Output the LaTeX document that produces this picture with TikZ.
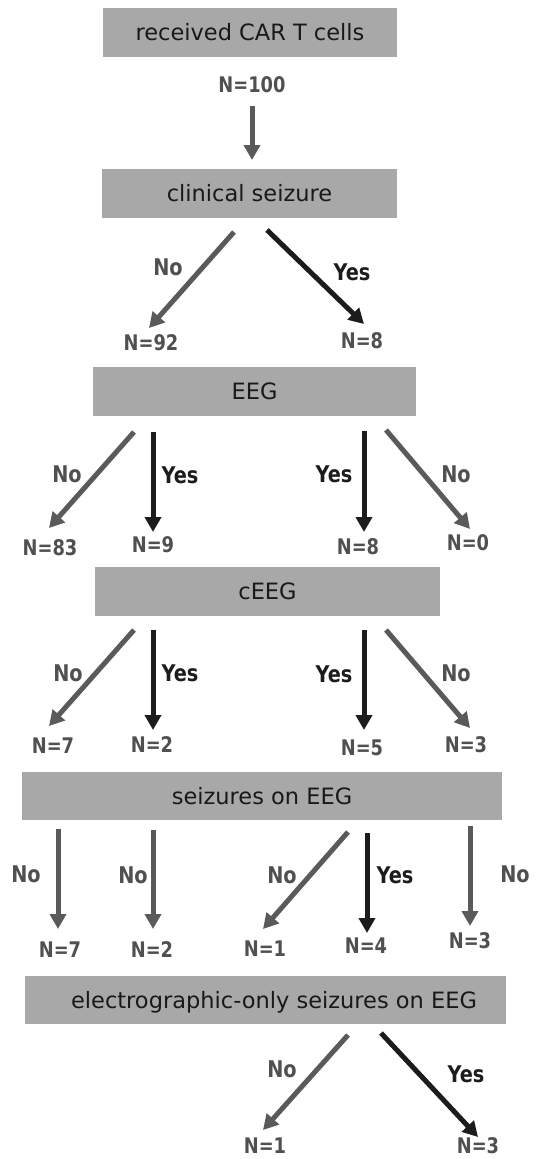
\documentclass[tikz,border=0pt]{standalone}
\usepackage{fontspec}
\setmainfont{DejaVu Sans}
\newfontfamily\nfont{DejaVu Sans}[FakeStretch=0.83]
\newfontfamily\lfont{DejaVu Sans}[FakeStretch=0.84]
\usetikzlibrary{arrows.meta}
\definecolor{boxgray}{HTML}{A8A8A8}
\definecolor{arrgray}{HTML}{5A5A5A}
\definecolor{arrblack}{HTML}{1C1C1C}
\definecolor{ngray}{HTML}{505050}
\tikzset{
  stagebox/.style={fill=boxgray, draw=none, minimum height=49pt, inner sep=0pt,
    text height=16pt, text depth=0pt, font=\fontsize{22.5pt}{26pt}\selectfont, text=black!90},
  nlab/.style={inner sep=0pt, text=ngray, font=\nfont\bfseries\fontsize{21.5pt}{25pt}\selectfont},
  nolab/.style={inner sep=0pt, text=ngray, font=\lfont\bfseries\fontsize{23pt}{27pt}\selectfont},
  yeslab/.style={inner sep=0pt, text=arrblack, font=\lfont\bfseries\fontsize{23pt}{27pt}\selectfont},
  noarr/.style={draw=arrgray, line width=5pt, -{Triangle[length=15pt,width=16pt]}},
  yesarr/.style={draw=arrblack, line width=5pt, -{Triangle[length=15pt,width=16pt]}},
}
\begin{document}
\begin{tikzpicture}[x=1pt,y=-1pt]
\useasboundingbox (0,0) rectangle (542,1159);
% boxes
\node[stagebox, minimum width=294pt] (b1) at (250,32.5) {received CAR T cells};
\node[stagebox, minimum width=295pt] (b2) at (249.5,193.5) {clinical seizure};
\node[stagebox, minimum width=323pt] (b3) at (254.5,391.5) {EEG};
\node[stagebox, minimum width=345pt] (b4) at (267.5,591.5) {cEEG};
\node[stagebox, minimum width=480pt, minimum height=48pt] (b5) at (262,796) {seizures on EEG};
\node[stagebox, minimum width=481pt, minimum height=48pt] (b6) at (265.5,1000) {\hspace*{17pt}electrographic-only seizures on EEG};
% level 0
\node[nlab] (n100) at (252,85) {N=100};
\coordinate (s0) at (252,106); \coordinate (e0) at (252,160);
\draw[noarr] (s0) -- (e0);
% level 1
\coordinate (s1a) at (234,232); \coordinate (e1a) at (149,328);
\coordinate (s1b) at (267,230); \coordinate (e1b) at (364,324);
\draw[noarr] (s1a) -- (e1a);
\draw[yesarr] (s1b) -- (e1b);
\node[nolab] (l1a) at (168,267) {No};
\node[yeslab] (l1b) at (352,272) {Yes};
\node[nlab] (n92) at (151,343) {N=92};
\node[nlab] (n8a) at (362,341) {N=8};
% level 2
\coordinate (s2a) at (134,432); \coordinate (e2a) at (49,528);
\coordinate (s2b) at (153,432); \coordinate (e2b) at (153,532);
\coordinate (s2c) at (364,431); \coordinate (e2c) at (364,532);
\coordinate (s2d) at (386,430); \coordinate (e2d) at (470,529);
\draw[noarr] (s2a) -- (e2a);
\draw[yesarr] (s2b) -- (e2b);
\draw[yesarr] (s2c) -- (e2c);
\draw[noarr] (s2d) -- (e2d);
\node[nolab] (l2a) at (67,474) {No};
\node[yeslab] (l2b) at (180,475) {Yes};
\node[yeslab] (l2c) at (334,474) {Yes};
\node[nolab] (l2d) at (456,474) {No};
\node[nlab] (n83) at (50,548) {N=83};
\node[nlab] (n9) at (153,545) {N=9};
\node[nlab] (n8b) at (358,547) {N=8};
\node[nlab] (n0) at (468,543) {N=0};
% level 3
\coordinate (s3a) at (134,630); \coordinate (e3a) at (49,726);
\coordinate (s3b) at (153,630); \coordinate (e3b) at (153,730);
\coordinate (s3c) at (364,630); \coordinate (e3c) at (364,730);
\coordinate (s3d) at (386,630); \coordinate (e3d) at (470,728);
\draw[noarr] (s3a) -- (e3a);
\draw[yesarr] (s3b) -- (e3b);
\draw[yesarr] (s3c) -- (e3c);
\draw[noarr] (s3d) -- (e3d);
\node[nolab] (l3a) at (68,673) {No};
\node[yeslab] (l3b) at (180,673) {Yes};
\node[yeslab] (l3c) at (334,674) {Yes};
\node[nolab] (l3d) at (456,673) {No};
\node[nlab] (n7a) at (53,746) {N=7};
\node[nlab] (n2a) at (152,745) {N=2};
\node[nlab] (n5) at (362,748) {N=5};
\node[nlab] (n3a) at (466,745) {N=3};
% level 4
\coordinate (s4a) at (58,829); \coordinate (e4a) at (58,929);
\coordinate (s4b) at (153,830); \coordinate (e4b) at (153,929);
\coordinate (s4c) at (348,832); \coordinate (e4c) at (263,929);
\coordinate (s4d) at (367,833); \coordinate (e4d) at (367,933);
\coordinate (s4e) at (470,826); \coordinate (e4e) at (470,926);
\draw[noarr] (s4a) -- (e4a);
\draw[noarr] (s4b) -- (e4b);
\draw[noarr] (s4c) -- (e4c);
\draw[yesarr] (s4d) -- (e4d);
\draw[noarr] (s4e) -- (e4e);
\node[nolab] (l4a) at (26,874) {No};
\node[nolab] (l4b) at (133,875) {No};
\node[nolab] (l4c) at (282,875) {No};
\node[yeslab] (l4d) at (395,875) {Yes};
\node[nolab] (l4e) at (515,874) {No};
\node[nlab] (n7b) at (60,950) {N=7};
\node[nlab] (n2b) at (152,950) {N=2};
\node[nlab] (n1a) at (265,949) {N=1};
\node[nlab] (n4) at (366,946) {N=4};
\node[nlab] (n3b) at (470,941) {N=3};
% level 5
\coordinate (s5a) at (348,1035); \coordinate (e5a) at (263,1130);
\coordinate (s5b) at (381,1033); \coordinate (e5b) at (478,1137);
\draw[noarr] (s5a) -- (e5a);
\draw[yesarr] (s5b) -- (e5b);
\node[nolab] (l5a) at (282,1069) {No};
\node[yeslab] (l5b) at (466,1074) {Yes};
\node[nlab] (n1b) at (265,1146) {N=1};
\node[nlab] (n3c) at (478,1146) {N=3};
\end{tikzpicture}
\end{document}
